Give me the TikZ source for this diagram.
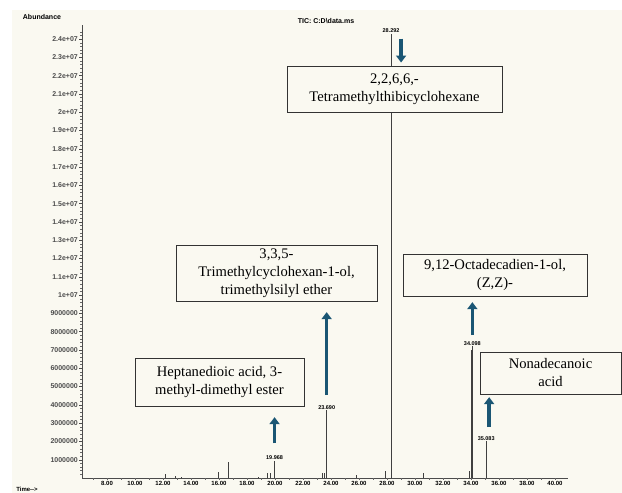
\documentclass[tikz,border=0pt]{standalone}
\usepackage{fontspec}
\setmainfont{Liberation Serif}
\setsansfont{Liberation Sans}
\usetikzlibrary{arrows.meta}

\definecolor{paper}{RGB}{250,249,241}
\definecolor{arrowblue}{RGB}{26,86,116}
\tikzset{
	cmpd/.style={draw=black!80, line width=0.9pt, fill=paper, inner sep=0pt, align=center, font=\fontsize{14.6}{18}\selectfont},
	peaklbl/.style={font=\sffamily\bfseries\fontsize{5.5}{6}\selectfont, inner sep=1pt, anchor=south},
	ylbl/.style={font=\sffamily\bfseries\fontsize{7}{8}\selectfont, inner sep=1pt, anchor=east},
	xlbl/.style={font=\sffamily\bfseries\fontsize{6}{7}\selectfont, inner sep=1pt, anchor=north},
	headlbl/.style={font=\sffamily\bfseries\fontsize{7}{8}\selectfont, inner sep=1pt},
	pkarrow/.style={draw=arrowblue, line width=3.6pt, -{Triangle[width=10pt,length=7pt]}},
	trace/.style={black!75, line width=0.8pt}
}

\begin{document}
\begin{tikzpicture}[x=1pt, y=-1pt]
	\useasboundingbox (0,0) rectangle (622,493);
	\fill[white] (0,0) rectangle (622,493);
	\fill[paper] (12,10) rectangle (622,493);

	\draw (42,17) node [headlbl] (abund){Abundance};
	\draw (326,21) node [headlbl] (tic){TIC: C:D\textbackslash data.ms};
	\draw (27,489) node [headlbl, font=\sffamily\bfseries\fontsize{6}{7}\selectfont] (time){Time-{}->};

	\draw[black!70, line width=0.8pt] (82,25) -- (82,478) -- (568,478);

	\begin{scope}[shift={(-5,478)}, x=14pt, y=18.29pt]
		\foreach \v in {0.2,0.4,...,24.5}
			\draw[black!60, line width=0.4pt] (6.214,\v) -- ++(-1.5pt,0pt);
		\foreach \v/\lbl in {24/2.4e+07,23/2.3e+07,22/2.2e+07,21/2.1e+07,20/2e+07,
			19/1.9e+07,18/1.8e+07,17/1.7e+07,16/1.6e+07,15/1.5e+07,14/1.4e+07,
			13/1.3e+07,12/1.2e+07,11/1.1e+07,10/1e+07,9/9000000,8/8000000,
			7/7000000,6/6000000,5/5000000,4/4000000,3/3000000,2/2000000,1/1000000}
			\draw[black!70] (6.214,\v) -- ++(-3pt,0pt) node [ylbl] {\lbl};
		\foreach \t in {7,...,40}
			\draw[black!60, line width=0.4pt] (\t,0) -- ++(0pt,-2pt);
		\foreach \t in {8,10,...,40}
			\draw (\t,0) ++(0pt,-2pt) node [xlbl] {\t.00};

		\foreach \t/\v in {12.15/0.2,12.9/0.1,13.3/0.08,15.95/0.35,16.65/0.9,
			18.8/0.07,19.45/0.3,19.7/0.25,19.968/0.95,23.4/0.3,23.55/0.3,
			23.69/3.7,25.8/0.15,27.9/0.4,28.292/24.3,30.6/0.25,33.9/0.4,
			34.02/7.0,34.098/7.2,35.083/2.0}
			\draw[trace] (\t,0) -- (\t,\v);

		\draw (19.968,0.95) node [peaklbl] (l19){19.968};
		\draw (23.69,3.7) node [peaklbl] (l23){23.690};
		\draw (28.292,24.3) node [peaklbl, anchor=south] (l28){28.292};
		\draw (34.098,7.2) node [peaklbl] (l34){34.098};
		\draw (35.083,2.0) node [peaklbl] (l35){35.083};
	\end{scope}

	\draw (394.5,89) node [cmpd, minimum width=215pt, minimum height=46pt] (b1){2,2,6,6,-\\Tetramethylthibicyclohexane};
	\draw (276.5,273) node [cmpd, minimum width=201pt, minimum height=56pt] (b2){3,3,5-\\Trimethylcyclohexan-1-ol,\\trimethylsilyl ether};
	\draw (219.5,382) node [cmpd, minimum width=169pt, minimum height=48pt] (b3){Heptanedioic acid, 3-\\methyl-dimethyl ester};
	\draw (495,275) node [cmpd, minimum width=184pt, minimum height=42pt] (b4){9,12-Octadecadien-1-ol,\\(Z,Z)-};
	\draw (550.5,373) node [cmpd, minimum width=141pt, minimum height=42pt] (b5){Nonadecanoic\\acid};

	\coordinate (a28) at ([xshift=10pt, yshift=-4pt]l28.south);
	\coordinate (a35) at ([xshift=3pt]l35.north);
	\draw[pkarrow, shorten <=1pt, shorten >=3pt] (a28) -- (a28 |- b1.north);
	\draw[pkarrow, shorten <=9pt, shorten >=10.7pt] (l23.north) -- (l23.north |- b2.south);
	\draw[pkarrow, shorten <=11pt, shorten >=10.7pt] (l19.north) -- (l19.north |- b3.south);
	\draw[pkarrow, shorten <=5pt, shorten >=5.7pt] (l34.north) -- (l34.north |- b4.south);
	\draw[pkarrow, shorten <=8pt, shorten >=2.7pt] (a35) -- (a35 |- b5.south);
\end{tikzpicture}
\end{document}
